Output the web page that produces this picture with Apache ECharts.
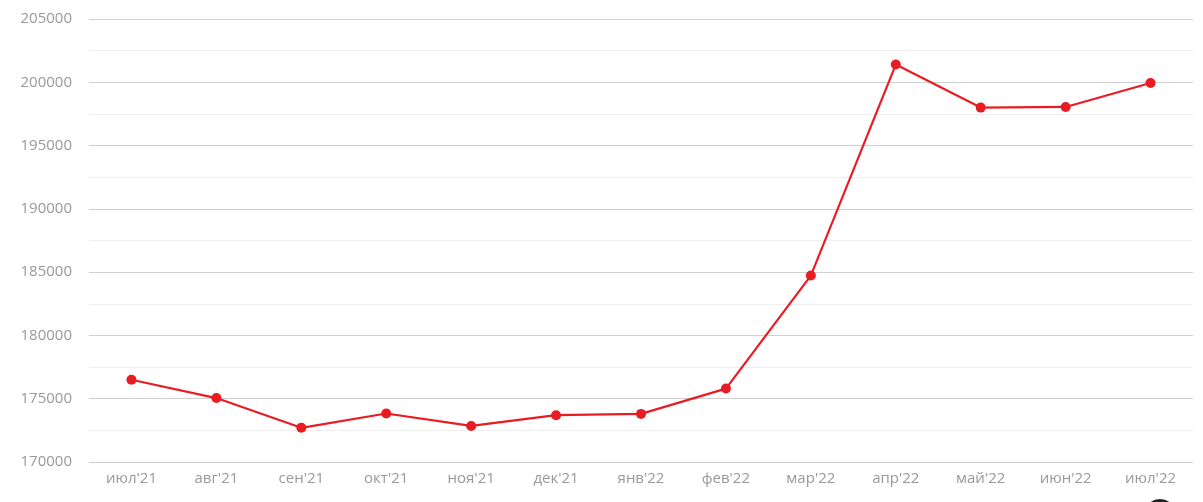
<!DOCTYPE html>
<html>
<head>
<meta charset="utf-8">
<script src="https://cdn.jsdelivr.net/npm/echarts@6/dist/echarts.min.js"></script>
<style>
html,body{margin:0;padding:0;background:#fff;}
#chart{width:1203px;height:502px;}
</style>
</head>
<body>
<div id="chart"></div>
<script>
const categories = ["июл'21","авг'21","сен'21","окт'21","ноя'21","дек'21","янв'22","фев'22","мар'22","апр'22","май'22","июн'22","июл'22"];
const values = [176500,175050,172700,173830,172850,173700,173800,175800,184730,201400,198000,198050,199940];
const yMin = 170000, yMax = 205000, yStep = 5000;

const chart = echarts.init(document.getElementById('chart'));
chart.setOption({
  animation: false,
  grid: {left: 89, right: 10, top: 19, bottom: 40},
  xAxis: {
    type: 'category',
    data: categories,
    boundaryGap: true,
    axisLine: {show: false},
    axisTick: {show: false},
    axisLabel: {color: '#999999', fontFamily: 'Open Sans', fontSize: 15, margin: 9}
  },
  yAxis: {
    type: 'value',
    min: yMin, max: yMax, interval: yStep,
    axisLine: {show: false},
    axisTick: {show: false},
    axisLabel: {color: '#999999', fontFamily: 'Open Sans', fontSize: 15, margin: 17, formatter: v => String(v)},
    splitLine: {lineStyle: {color: '#d0d0d0', width: 1}},
    minorTick: {show: false, splitNumber: 2},
    minorSplitLine: {show: true, lineStyle: {color: '#eeeeee', width: 1}}
  },
  series: [{
    type: 'line',
    data: values,
    symbol: 'circle',
    symbolSize: 10,
    lineStyle: {color: '#e91c24', width: 2.2},
    itemStyle: {color: '#e91c24'}
  }],
  graphic: [{
    type: 'circle',
    shape: {cx: 1160, cy: 515, r: 16},
    style: {fill: '#222'}
  }]
});
</script>
</body>
</html>
